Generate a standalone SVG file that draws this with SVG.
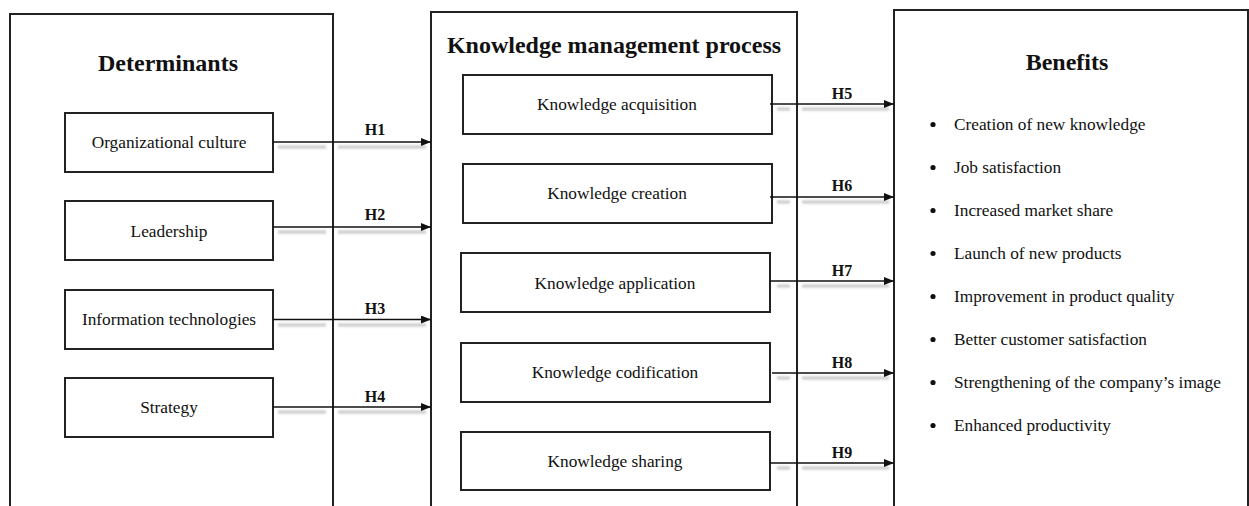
<svg xmlns="http://www.w3.org/2000/svg" width="1249" height="506" viewBox="0 0 1249 506">
<style>
.frame{fill:#fff;stroke:#222;stroke-width:2}
.box{fill:#fff;stroke:#222;stroke-width:2}
.title{font-family:"Liberation Serif","Times New Roman",serif;font-weight:bold;font-size:24px;fill:#111;text-anchor:middle}
.lbl{font-family:"Liberation Serif","Times New Roman",serif;font-size:17.3px;fill:#111;text-anchor:middle}
.item{font-family:"Liberation Serif","Times New Roman",serif;font-size:17.3px;fill:#111}
.h{font-family:"Liberation Serif","Times New Roman",serif;font-weight:bold;font-size:16px;fill:#111;text-anchor:middle}
.arr{stroke:#111;stroke-width:1.6;fill:none;marker-end:url(#ah)}
.sh{stroke:#c8c8c8;stroke-width:3;fill:none;filter:url(#blur)}
</style>
<defs>
<marker id="ah" markerUnits="userSpaceOnUse" markerWidth="11" markerHeight="8" refX="10" refY="4" orient="auto">
<path d="M0,0 L10,4 L0,8 z" fill="#111"/>
</marker>
<filter id="blur" x="-10%" y="-200%" width="120%" height="500%"><feGaussianBlur stdDeviation="0.9"/></filter>
</defs>
<rect width="1249" height="506" fill="#fff"/>

<g id="determinants">
<rect class="frame" x="10" y="14" width="323" height="500"/>
<text class="title" x="168" y="71">Determinants</text>
</g>
<g id="kmp">
<rect class="frame" x="431" y="12" width="366" height="500"/>
<text class="title" x="614" y="53">Knowledge management process</text>
</g>
<g id="benefits">
<rect class="frame" x="894" y="10" width="354" height="504"/>
<text class="title" x="1067" y="70">Benefits</text>
<g class="item">
<circle cx="933" cy="124.5" r="2.6" fill="#111"/><text x="954" y="130">Creation of new knowledge</text>
<circle cx="933" cy="167.5" r="2.6" fill="#111"/><text x="954" y="173">Job satisfaction</text>
<circle cx="933" cy="210.5" r="2.6" fill="#111"/><text x="954" y="216">Increased market share</text>
<circle cx="933" cy="253.5" r="2.6" fill="#111"/><text x="954" y="259">Launch of new products</text>
<circle cx="933" cy="296.5" r="2.6" fill="#111"/><text x="954" y="302">Improvement in product quality</text>
<circle cx="933" cy="339.5" r="2.6" fill="#111"/><text x="954" y="345">Better customer satisfaction</text>
<circle cx="933" cy="382.5" r="2.6" fill="#111"/><text x="954" y="388">Strengthening of the company’s image</text>
<circle cx="933" cy="425.5" r="2.6" fill="#111"/><text x="954" y="431">Enhanced productivity</text>
</g>
</g>

<g id="n-org"><rect class="box" x="65" y="113" width="208" height="59"/><text class="lbl" x="169" y="148">Organizational culture</text></g>
<g id="n-lead"><rect class="box" x="65" y="201" width="208" height="59"/><text class="lbl" x="169" y="236.5">Leadership</text></g>
<g id="n-it"><rect class="box" x="65" y="290" width="208" height="59"/><text class="lbl" x="169" y="325">Information technologies</text></g>
<g id="n-strat"><rect class="box" x="65" y="378" width="208" height="59"/><text class="lbl" x="169" y="413">Strategy</text></g>

<g id="n-acq"><rect class="box" x="463" y="75" width="309" height="59"/><text class="lbl" x="617" y="110">Knowledge acquisition</text></g>
<g id="n-cre"><rect class="box" x="463" y="164" width="309" height="59"/><text class="lbl" x="617" y="199">Knowledge creation</text></g>
<g id="n-app"><rect class="box" x="461" y="253" width="309" height="59"/><text class="lbl" x="615" y="288.5">Knowledge application</text></g>
<g id="n-cod"><rect class="box" x="461" y="343" width="309" height="59"/><text class="lbl" x="615" y="378">Knowledge codification</text></g>
<g id="n-sha"><rect class="box" x="461" y="432" width="309" height="58"/><text class="lbl" x="615" y="466.5">Knowledge sharing</text></g>

<g id="connectors">
<path class="sh" d="M278,147H326M338,147H426M278,232H326M338,232H426M278,325H326M338,325H426M278,412H326M338,412H426"/>
<path class="sh" d="M777,109H790M802,109H889M777,202H790M802,202H889M777,286H790M802,286H889M777,378H790M802,378H889M777,468H790M802,468H889"/>
<line class="arr" x1="273" y1="142" x2="431" y2="142"/>
<line class="arr" x1="273" y1="227" x2="431" y2="227"/>
<line class="arr" x1="273" y1="319.5" x2="431" y2="319.5"/>
<line class="arr" x1="273" y1="407" x2="431" y2="407"/>
<line class="arr" x1="770" y1="104" x2="894" y2="104"/>
<line class="arr" x1="770" y1="197" x2="894" y2="197"/>
<line class="arr" x1="770" y1="281" x2="894" y2="281"/>
<line class="arr" x1="772" y1="373" x2="894" y2="373"/>
<line class="arr" x1="770" y1="463" x2="894" y2="463"/>
<text class="h" x="375" y="135">H1</text>
<text class="h" x="375" y="220">H2</text>
<text class="h" x="375" y="314">H3</text>
<text class="h" x="375" y="402">H4</text>
<text class="h" x="842" y="99">H5</text>
<text class="h" x="842" y="191">H6</text>
<text class="h" x="842" y="276">H7</text>
<text class="h" x="842" y="368">H8</text>
<text class="h" x="842" y="458">H9</text>
</g>
</svg>
